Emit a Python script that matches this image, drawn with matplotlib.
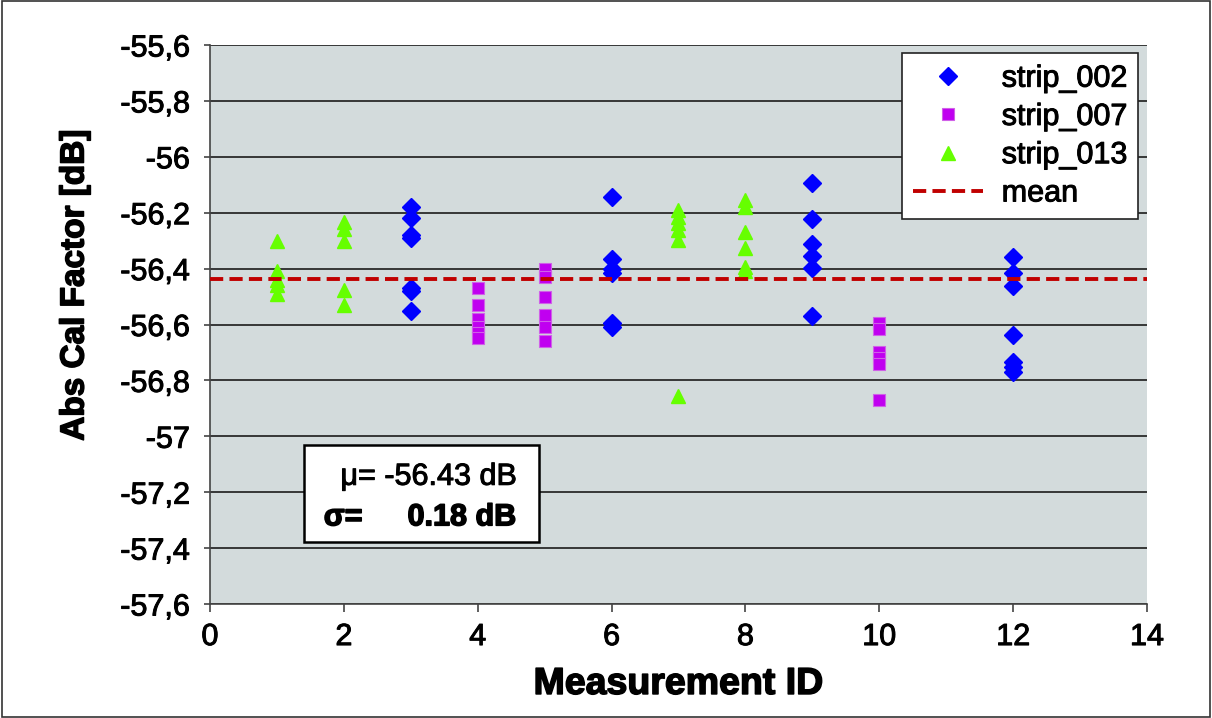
import matplotlib.pyplot as plt
import matplotlib.patheffects as pe
from matplotlib.patches import Rectangle

plt.rcParams['font.family'] = ['Liberation Sans', 'DejaVu Sans']

# data
strip_002_x = [3, 3, 3, 3, 3, 3, 3,
               6, 6, 6, 6, 6, 6,
               9, 9, 9, 9, 9, 9,
               12, 12, 12, 12, 12, 12, 12]
strip_002_y = [-56.18, -56.22, -56.28, -56.29, -56.47, -56.48, -56.55,
               -56.145, -56.365, -56.40, -56.415, -56.595, -56.61,
               -56.093, -56.224, -56.312, -56.355, -56.399, -56.57,
               -56.357, -56.417, -56.462, -56.638, -56.735, -56.751, -56.769]

strip_007_x = [4, 4, 4, 4, 4, 4,
               5, 5, 5, 5, 5, 5,
               10, 10, 10, 10, 10, 10]
strip_007_y = [-56.47, -56.53, -56.58, -56.61, -56.63, -56.65,
               -56.40, -56.43, -56.50, -56.565, -56.61, -56.66,
               -56.595, -56.615, -56.70, -56.72, -56.74, -56.87]

strip_013_x = [1, 1, 1, 1, 1,
               2, 2, 2, 2, 2,
               7, 7, 7, 7, 7, 7,
               8, 8, 8, 8, 8, 8]
strip_013_y = [-56.30, -56.41, -56.44, -56.46, -56.49,
               -56.235, -56.26, -56.30, -56.475, -56.53,
               -56.19, -56.214, -56.238, -56.262, -56.298, -56.856,
               -56.155, -56.18, -56.27, -56.327, -56.393, -56.41]

mean_value = -56.438
mu_text = 'μ= -56.43 dB'
sigma_label = 'σ='
sigma_value = '0.18 dB'

y_ticks = [-55.6, -55.8, -56.0, -56.2, -56.4, -56.6, -56.8, -57.0, -57.2, -57.4, -57.6]
y_labels = ['-55,6', '-55,8', '-56', '-56,2', '-56,4', '-56,6', '-56,8', '-57', '-57,2', '-57,4', '-57,6']
x_ticks = [0, 2, 4, 6, 8, 10, 12, 14]

heavy = [pe.withStroke(linewidth=0.7, foreground='black')]
heavier = [pe.withStroke(linewidth=1.1, foreground='black')]

fig = plt.figure(figsize=(12.12, 7.18), dpi=100)
ax = fig.add_axes([210 / 1212, 1 - 604 / 718, 937 / 1212, 559 / 718])
ax.set_facecolor('#D3DBDC')

for yt in y_ticks:
    ax.axhline(yt, color='#2a2a2a', lw=1.3, zorder=1)

ax.plot(strip_002_x, strip_002_y, 'D', color='#0000FF', ms=9, mec='#0000FF',
        ls='none', label='strip_002', zorder=3)
ax.plot(strip_007_x, strip_007_y, 's', color='#C000F0', ms=8, mec='#D060E8',
        mew=0.8, ls='none', label='strip_007', zorder=3)
ax.plot(strip_013_x, strip_013_y, '^', color='#66FF00', ms=10, mec='#66FF00',
        ls='none', label='strip_013', zorder=3)
ax.axhline(mean_value, color='#C00000', lw=2.8, ls=(0, (3.4, 1.6)), label='mean', zorder=4)

ax.set_xlim(0, 14)
ax.set_ylim(-57.6, -55.6)
ax.set_xticks(x_ticks)
ax.set_yticks(y_ticks)
ax.set_yticklabels(y_labels)
ax.tick_params(axis='both', labelsize=22, direction='out', color='#444444', width=1.2)
ax.tick_params(axis='x', length=6, pad=7)
ax.tick_params(axis='y', length=4.5, pad=10)
for lab in ax.get_xticklabels() + ax.get_yticklabels():
    lab.set_path_effects(heavy)

for side in ['top', 'right']:
    ax.spines[side].set_visible(False)
for side in ['left', 'bottom']:
    ax.spines[side].set_color('#444444')
    ax.spines[side].set_linewidth(1.2)

ax.set_xlabel('Measurement ID', fontsize=27, fontweight='bold', labelpad=10,
              path_effects=heavier)
ax.set_ylabel('Abs Cal Factor [dB]', fontsize=24, fontweight='bold', path_effects=heavier)
ax.yaxis.label.set_va('center')
ax.yaxis.set_label_coords((75 - 210) / 937, (604 - 285) / 559)

leg = ax.legend(loc='upper right', bbox_to_anchor=(1 - 9 / 937, 1 - 8 / 559),
                borderaxespad=0, fontsize=22,
                frameon=True, fancybox=False, edgecolor='#222222', framealpha=1,
                handlelength=2.3, borderpad=0.35, labelspacing=0.27, handletextpad=0.6)
leg.get_frame().set_linewidth(1.2)
for t in leg.get_texts():
    t.set_path_effects(heavy)

ax.add_patch(Rectangle((1.404, -57.378), 3.512, 0.347, facecolor='white', edgecolor='black',
                       lw=1.8, zorder=5))
ax.text(4.58, -57.145, mu_text, fontsize=22, ha='right', va='center', zorder=6,
        path_effects=heavy)
ax.text(1.7, -57.29, sigma_label, fontsize=22, fontweight='bold', ha='left', va='center',
        zorder=6, path_effects=heavier)
ax.text(4.58, -57.29, sigma_value, fontsize=22, fontweight='bold', ha='right', va='center',
        zorder=6, path_effects=heavier)

fig.patches.append(Rectangle((0.002, 0.002), 0.996, 0.996, transform=fig.transFigure,
                             fill=False, edgecolor='#333333', lw=1.2))

fig.savefig('out.png', dpi=100)
